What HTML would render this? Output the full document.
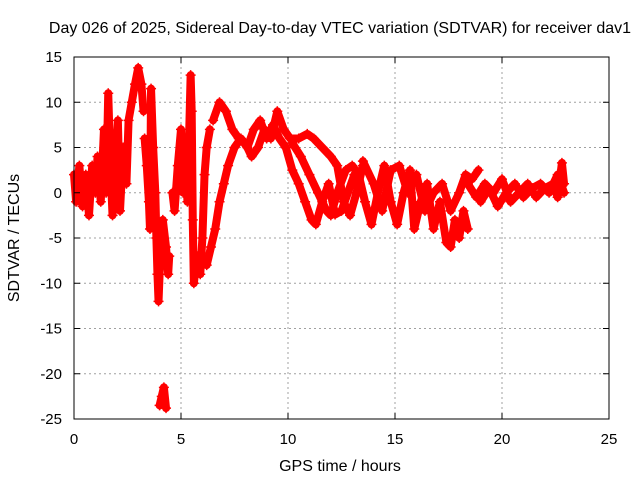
<!DOCTYPE html>
<html><head><meta charset="utf-8"><style>
body{margin:0;background:#fff}
svg{display:block;font-family:"Liberation Sans",sans-serif}
</style></head><body>
<svg id="chart" width="640" height="480" viewBox="0 0 640 480">
<rect width="640" height="480" fill="#fff"/>
<text x="340" y="33" font-size="16" text-anchor="middle" fill="#000">Day 026 of 2025, Sidereal Day-to-day VTEC variation (SDTVAR) for receiver dav1</text>
<text x="340" y="471" font-size="16" text-anchor="middle">GPS time / hours</text>
<text transform="translate(19,238) rotate(-90)" font-size="16" text-anchor="middle">SDTVAR / TECUs</text>
<g id="grid"></g><g id="marks"></g><g id="axes"></g>
</svg>
<script>
const xTicks=[0,5,10,15,20,25];
const yTicks=[15,10,5,0,-5,-10,-15,-20,-25];
const t1h=[0,0.1,0.25,0.4,0.55,0.7,0.85,1.0,1.1,1.25,1.4,1.5,1.6,1.7,1.8,1.95,2.05,2.15,2.3,2.45,2.55,2.7,2.85,3.0,3.15,3.25];
const t1v=[2,-1,3,-1.5,2,-2.5,3,0,4,-1,7,0,11,3,-2.5,4,8,-2,5,1,8,10,12,13.8,12,9];
const t2h=[3.3,3.4,3.5,3.55,3.6,3.7,3.8,3.85,3.9,3.95,4.05,4.15,4.3,4.4,4.45];
const t2v=[6,3,-1,-4,11.5,5,0,-5,-9,-12,-6,-3,-6,-9,-7];
const t2bh=[4.0,4.1,4.2,4.3];
const t2bv=[-23.5,-22.5,-21.5,-23.8];
const t3h=[4.6,4.7,4.85,5.0,5.1,5.2,5.3,5.45,5.5,5.55,5.6,5.75,5.9,6.0,6.1,6.2,6.35];
const t3v=[0,-2,3,7,0,6,-1,13,9,-3,-10,-7,-9,-5,2,5,7];
const t4h=[6.2,6.4,6.6,6.8,7.0,7.2,7.5,7.8,8.1,8.4,8.7,9.0,9.3,9.6,9.9];
const t4v=[-8,-6,-4,-1,1,3,5,6,5,7,8,6,7.5,6,5];
const t5h=[6.5,6.8,7.1,7.4,7.7,8.0,8.3,8.6,8.9,9.2,9.5,9.8,10.1,10.5,10.9,11.2,11.6,12.0,12.3,12.6,12.9,13.2,13.5];
const t5v=[8,10,9,7,6,5.5,4,5,7,6,9,7,6,6,6.5,6,5,4,3,-1,-2.5,0,3];
const t6h=[9.9,10.2,10.5,10.8,11.1,11.3,11.6,11.9,12.2,12.5,12.8,13.1];
const t6v=[5,2.5,1,-1,-3,-3.5,-1,1,-2.4,-2,0,2];
const t6bh=[10.2,10.6,11.0,11.4,11.8,12.0,12.3,12.7,13.0,13.3];
const t6bv=[5.5,4,2,0,-2,-2.5,0,2.5,3,2];
const t7h=[13.3,13.6,13.9,14.2,14.5,14.8,15.1,15.4,15.7,15.9,16.2,16.5,16.8,17.1,17.4,17.6,17.8,18.0,18.2,18.4];
const t7v=[2,-1,-3.5,0,3,-1,-3.5,0,2.5,-4,-1,1,-4,-1,-5.5,-6,-3,-5,-2,-4];
const t7bh=[13.5,14.0,14.4,14.8,15.2,15.6,16.0,16.4,16.8,17.2,17.6,18.0,18.3,18.6,18.9];
const t7bv=[3.5,1,-2,2.5,3,0,2,-2,0,1,-2,0,2,1.5,2.5];
const t8h=[18.4,18.8,19.2,19.6,20.0,20.4,20.8,21.2,21.6,22.0,22.4,22.6,22.8,22.9];
const t8v=[1,-0.5,1,0,1.5,-1,0,1,-0.5,0.5,1,-0.5,3.3,1];
const t8bh=[19.0,19.4,19.8,20.2,20.6,21.0,21.4,21.8,22.2,22.6,22.9];
const t8bv=[-1,0.5,-1.5,0,1,-0.5,0.5,1,0,2,0];

const X0=74,X1=609,Y0=419,Y1=57;
function xs(h){return X0+(h-0)/25*(X1-X0);}
function ys(v){return Y0-(v+25)/40*(Y0-Y1);}
const NS='http://www.w3.org/2000/svg';
function mk(tag,at,parent){const e=document.createElementNS(NS,tag);for(const k in at)e.setAttribute(k,at[k]);parent.appendChild(e);return e;}
const grid=document.getElementById('grid'),marks=document.getElementById('marks'),axes=document.getElementById('axes');
xTicks.forEach(t=>{
  const x=xs(t);
  if(t>0&&t<25){const g=mk('line',{x1:x,x2:x,y1:Y1,y2:Y0,stroke:'#a0a0a0','stroke-dasharray':'2,3'},grid);
  
  }
  const l=mk('text',{x:x,y:Y0+25,'font-size':15,'text-anchor':'middle'},axes);l.textContent=t;
  
  
  mk('line',{x1:x,x2:x,y1:Y0,y2:Y0-6,stroke:'#000'},axes);
  mk('line',{x1:x,x2:x,y1:Y1,y2:Y1+6,stroke:'#000'},axes);
});
yTicks.forEach(t=>{
  const y=ys(t);
  if(t<15&&t>-25){const g=mk('line',{x1:X0,x2:X1,y1:y,y2:y,stroke:'#a0a0a0','stroke-dasharray':'2,3'},grid);
  
  }
  const l=mk('text',{x:X0-12,y:y+5,'font-size':15,'text-anchor':'end'},axes);l.textContent=t;
  
  
  mk('line',{x1:X0,x2:X0+6,y1:y,y2:y,stroke:'#000'},axes);
  mk('line',{x1:X1,x2:X1-6,y1:y,y2:y,stroke:'#000'},axes);
});
const frame=mk('rect',{x:X0,y:Y1,width:X1-X0,height:Y0-Y1,fill:'none',stroke:'#000'},axes);


const tracks=[[t1h,t1v],[t2h,t2v],[t2bh,t2bv],[t3h,t3v],[t4h,t4v],[t5h,t5v],[t6h,t6v],[t6bh,t6bv],[t7h,t7v],[t7bh,t7bv],[t8h,t8v],[t8bh,t8bv]];
tracks.forEach(([H,V])=>{
  const pts=H.map((h,i)=>xs(h)+','+ys(V[i])).join(' ');
  const pl=mk('polyline',{points:pts,fill:'none',stroke:'#f00','stroke-width':8,'stroke-linejoin':'round','stroke-linecap':'round'},marks);
  
  
  H.forEach((h,i)=>{
    const x=xs(h),y=ys(V[i]);
    const p=mk('path',{d:`M${x-5},${y}H${x+5}M${x},${y-5}V${y+5}`,stroke:'#f00','stroke-width':1.5},marks);
    
    
  });
});
</script>
</body></html>
